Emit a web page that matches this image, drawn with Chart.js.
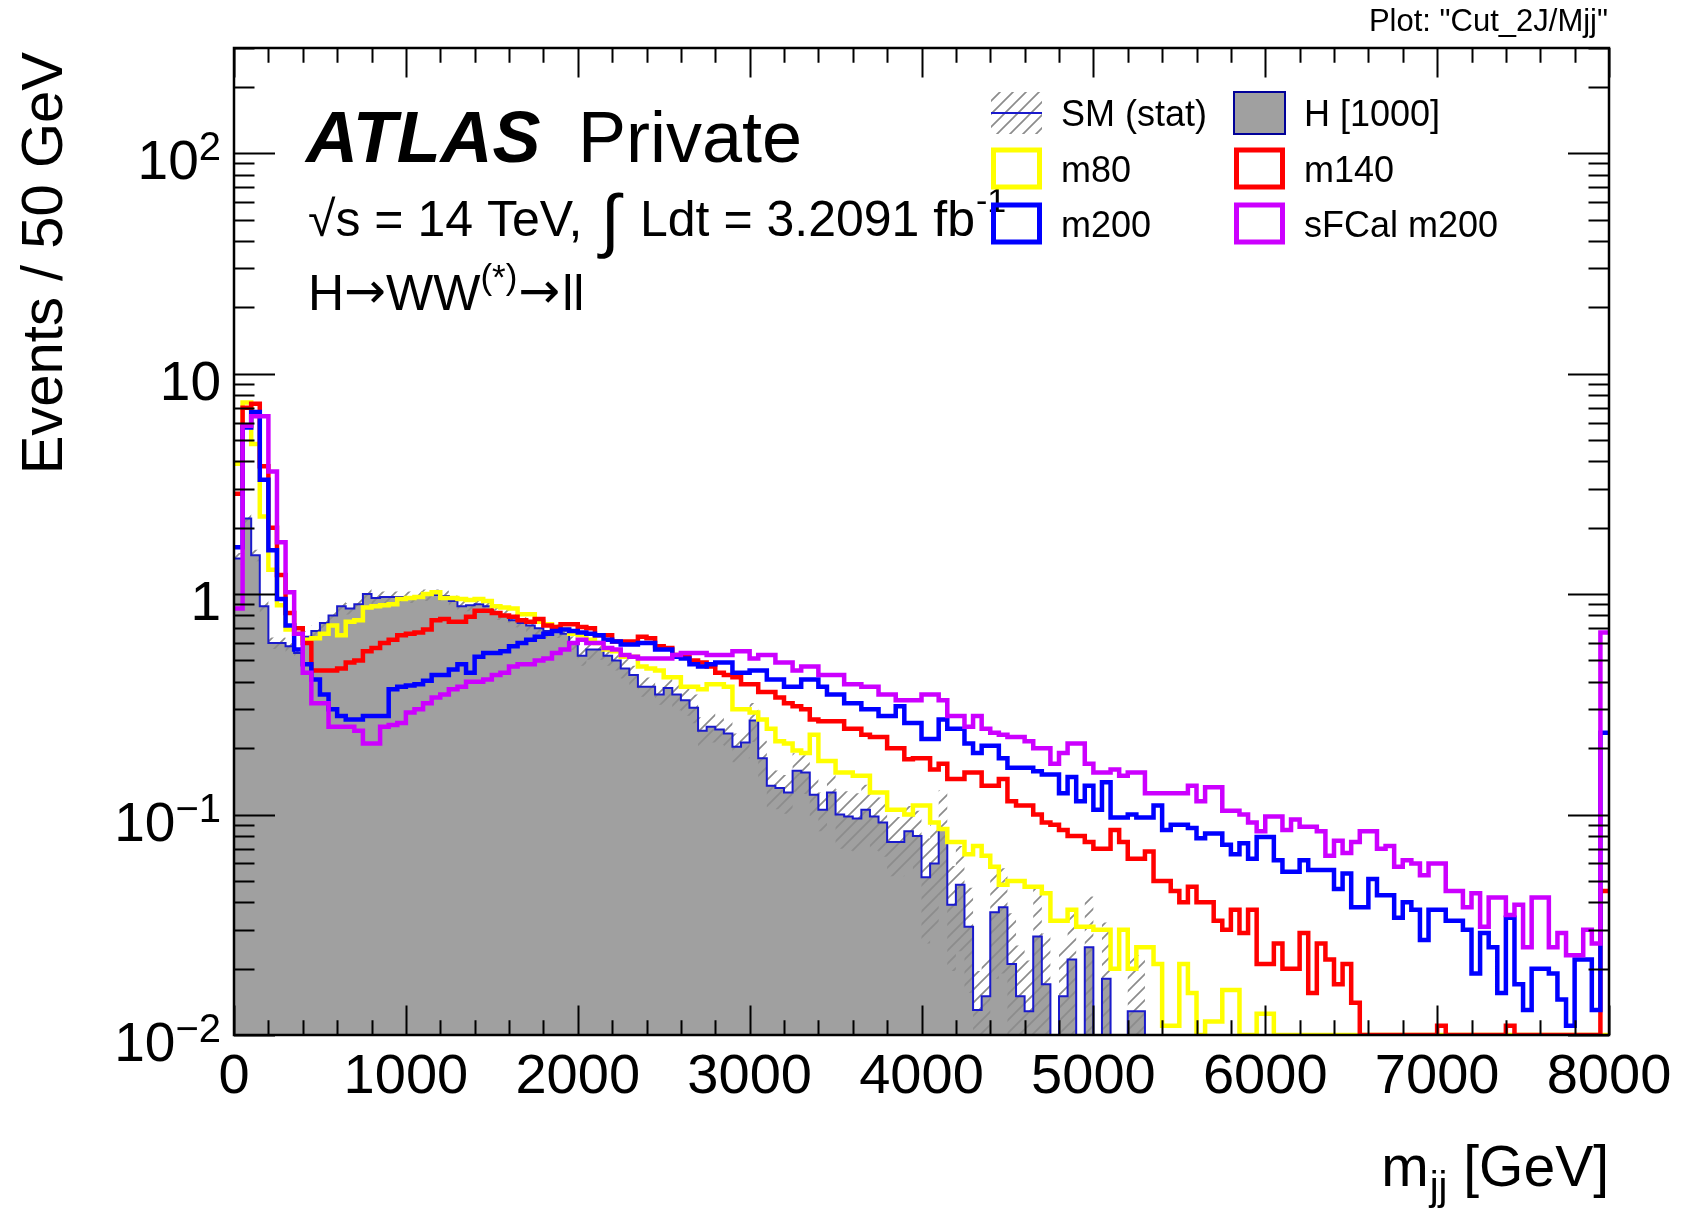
<!DOCTYPE html>
<html>
<head>
<meta charset="utf-8">
<script src="https://cdn.jsdelivr.net/npm/chart.js"></script>
<style>
  html, body { margin: 0; padding: 0; background: #fff; }
  canvas { display: block; }
</style>
</head>
<body>
<canvas id="mjj" width="1685" height="1210"></canvas>
<script>
// m_jj, 50 GeV bins from 0 to 8000 GeV (160 bins)
const binWidth = 50;
const nBins = 160;

// SM / H [1000] background (0 = empty bin)
const smValues = [
  1.45, 2.2, 1.5, 0.88, 0.6, 0.6, 0.58, 0.54, 0.64, 0.68, 0.74, 0.8, 0.88, 0.86, 0.9, 1.0, 0.96, 0.97, 0.97, 0.97,
  0.97, 0.98, 0.99, 0.99, 0.98, 0.93, 0.88, 0.89, 0.9, 0.88, 0.82, 0.8, 0.76, 0.74, 0.72, 0.7, 0.68, 0.68, 0.66, 0.6,
  0.525, 0.56, 0.56, 0.525, 0.5, 0.46, 0.43, 0.38, 0.38, 0.35, 0.375, 0.35, 0.33, 0.305, 0.24, 0.25, 0.243, 0.233, 0.203, 0.212,
  0.267, 0.18, 0.135, 0.132, 0.126, 0.158, 0.155, 0.123, 0.105, 0.126, 0.1, 0.098, 0.096, 0.105, 0.098, 0.092, 0.075, 0.075, 0.084, 0.08,
  0.052, 0.06, 0.086, 0.039, 0.048, 0.031, 0.013, 0.015, 0.036, 0.038, 0.021, 0.015, 0.0128, 0.028, 0.017, 0, 0.015, 0.022, 0, 0.025,
  0, 0.018, 0, 0, 0.0128, 0.0128, 0, 0, 0, 0, 0, 0, 0, 0, 0, 0, 0, 0, 0, 0,
  0, 0, 0, 0, 0, 0, 0, 0, 0, 0, 0, 0, 0, 0, 0, 0, 0, 0, 0, 0,
  0, 0, 0, 0, 0, 0, 0, 0, 0, 0, 0, 0, 0, 0, 0, 0, 0, 0, 0, 0
];

// relative stat. uncertainty of SM, one value per 500 GeV
const smRelErr = [0.06, 0.06, 0.06, 0.07, 0.1, 0.15, 0.2, 0.3, 0.5, 0.7, 0.8, 0, 0, 0, 0, 0];

const m80 = [
  3.9, 7.4, 4.8, 2.25, 1.29, 0.89, 0.69, 0.66, 0.62, 0.63, 0.66, 0.72, 0.65, 0.75, 0.76, 0.87, 0.88, 0.89, 0.9, 0.95,
  0.96, 0.97, 1.0, 1.02, 0.96, 0.96, 0.95, 0.94, 0.95, 0.93, 0.88, 0.87, 0.86, 0.81, 0.81, 0.75, 0.73, 0.71, 0.69, 0.66,
  0.65, 0.62, 0.6, 0.56, 0.55, 0.52, 0.52, 0.47, 0.46, 0.45, 0.42, 0.42, 0.38, 0.38, 0.37, 0.39, 0.39, 0.38, 0.3, 0.3,
  0.29, 0.27, 0.245, 0.215, 0.21, 0.195, 0.19, 0.23, 0.175, 0.175, 0.155, 0.155, 0.15, 0.15, 0.126, 0.126, 0.105, 0.105, 0.1, 0.11,
  0.11, 0.092, 0.086, 0.075, 0.075, 0.066, 0.072, 0.065, 0.058, 0.048, 0.05, 0.05, 0.047, 0.047, 0.044, 0.033, 0.033, 0.037, 0.031, 0.031,
  0.03, 0.03, 0.02, 0.03, 0.02, 0.025, 0.025, 0.021, 0.011, 0.011, 0.021, 0.0155, 0, 0.0115, 0.0115, 0.016, 0.016, 0, 0, 0.0125,
  0.0125, 0, 0, 0, 0, 0, 0, 0, 0, 0, 0, 0, 0, 0, 0, 0, 0, 0, 0, 0,
  0, 0, 0, 0, 0, 0, 0, 0, 0, 0, 0, 0, 0, 0, 0, 0, 0, 0, 0, 0
];

const m140 = [
  2.85, 7.0, 7.3, 3.8, 2.0, 1.22, 0.82, 0.7, 0.6, 0.45, 0.45, 0.45, 0.46, 0.49, 0.5, 0.55, 0.57, 0.6, 0.62, 0.65,
  0.66, 0.67, 0.69, 0.76, 0.77, 0.75, 0.75, 0.79, 0.84, 0.84, 0.82, 0.8, 0.79, 0.76, 0.75, 0.77, 0.72, 0.71, 0.73, 0.73,
  0.71, 0.7, 0.65, 0.65, 0.61, 0.61, 0.61, 0.64, 0.63, 0.58, 0.57, 0.53, 0.52, 0.5, 0.49, 0.47, 0.44, 0.43, 0.42, 0.39,
  0.39, 0.36, 0.36, 0.34, 0.32, 0.31, 0.3, 0.27, 0.265, 0.265, 0.265, 0.245, 0.245, 0.23, 0.225, 0.225, 0.2, 0.2, 0.178, 0.18,
  0.18, 0.16, 0.17, 0.145, 0.145, 0.155, 0.155, 0.135, 0.135, 0.145, 0.115, 0.11, 0.11, 0.1, 0.092, 0.09, 0.085, 0.08, 0.08, 0.075,
  0.07, 0.07, 0.085, 0.075, 0.063, 0.063, 0.068, 0.05, 0.05, 0.045, 0.04, 0.047, 0.04, 0.04, 0.033, 0.03, 0.037, 0.029, 0.037, 0.021,
  0.021, 0.026, 0.02, 0.02, 0.029, 0.0155, 0.026, 0.022, 0.017, 0.021, 0.014, 0, 0, 0, 0, 0, 0, 0, 0, 0,
  0.011, 0, 0, 0, 0, 0, 0, 0, 0.011, 0, 0, 0, 0, 0, 0, 0, 0, 0, 0, 0.045
];

const m200 = [
  1.63, 5.7, 6.7, 3.3, 1.58, 0.95, 0.72, 0.56, 0.48, 0.41, 0.35, 0.3, 0.28, 0.27, 0.27, 0.28, 0.28, 0.28, 0.37, 0.38,
  0.385, 0.39, 0.405, 0.43, 0.43, 0.455, 0.48, 0.44, 0.52, 0.54, 0.54, 0.55, 0.58, 0.6, 0.62, 0.64, 0.66, 0.68, 0.69, 0.68,
  0.67, 0.66, 0.65, 0.62, 0.61, 0.59, 0.59, 0.6, 0.6, 0.56, 0.56, 0.52, 0.51, 0.48, 0.47, 0.48, 0.49, 0.49, 0.44, 0.44,
  0.45, 0.45, 0.41, 0.41, 0.38, 0.38, 0.41, 0.41, 0.38, 0.35, 0.35, 0.32, 0.32, 0.3, 0.3, 0.28, 0.28, 0.31, 0.26, 0.26,
  0.22, 0.22, 0.27, 0.245, 0.245, 0.21, 0.19, 0.205, 0.205, 0.18, 0.163, 0.163, 0.163, 0.157, 0.152, 0.152, 0.125, 0.148, 0.115, 0.135,
  0.105, 0.14, 0.097, 0.097, 0.1, 0.097, 0.097, 0.11, 0.085, 0.09, 0.09, 0.087, 0.078, 0.082, 0.082, 0.073, 0.066, 0.074, 0.063, 0.079,
  0.079, 0.062, 0.055, 0.055, 0.062, 0.056, 0.056, 0.056, 0.046, 0.054, 0.038, 0.038, 0.051, 0.043, 0.043, 0.034, 0.04, 0.037, 0.027, 0.037,
  0.037, 0.033, 0.033, 0.03, 0.019, 0.029, 0.025, 0.0155, 0.034, 0.017, 0.013, 0.02, 0.02, 0.019, 0.0145, 0.011, 0.022, 0.022, 0.013, 0.235
];

const sfcalM200 = [
  0.86, 5.8, 6.4, 6.4, 3.6, 1.72, 1.02, 0.66, 0.44, 0.32, 0.32, 0.25, 0.25, 0.25, 0.24, 0.21, 0.21, 0.25, 0.255, 0.26,
  0.29, 0.3, 0.32, 0.34, 0.35, 0.37, 0.38, 0.4, 0.4, 0.41, 0.43, 0.44, 0.47, 0.48, 0.48, 0.5, 0.51, 0.54, 0.56, 0.6,
  0.62, 0.6, 0.6, 0.57, 0.56, 0.53, 0.52, 0.51, 0.51, 0.51, 0.51, 0.53, 0.54, 0.54, 0.54, 0.53, 0.53, 0.53, 0.55, 0.55,
  0.51, 0.53, 0.53, 0.49, 0.49, 0.45, 0.47, 0.47, 0.43, 0.43, 0.43, 0.39, 0.39, 0.38, 0.38, 0.35, 0.35, 0.33, 0.33, 0.33,
  0.35, 0.35, 0.33, 0.28, 0.28, 0.25, 0.28, 0.245, 0.235, 0.23, 0.225, 0.225, 0.215, 0.2, 0.2, 0.17, 0.19, 0.21, 0.21, 0.17,
  0.155, 0.155, 0.16, 0.15, 0.155, 0.155, 0.125, 0.125, 0.125, 0.125, 0.125, 0.135, 0.115, 0.133, 0.133, 0.104, 0.104, 0.1, 0.092, 0.084,
  0.098, 0.098, 0.085, 0.095, 0.088, 0.088, 0.084, 0.065, 0.076, 0.067, 0.075, 0.084, 0.084, 0.07, 0.072, 0.058, 0.062, 0.06, 0.053, 0.06,
  0.06, 0.045, 0.045, 0.038, 0.044, 0.031, 0.042, 0.042, 0.035, 0.039, 0.025, 0.042, 0.042, 0.025, 0.029, 0.023, 0.023, 0.03, 0.026, 0.67
];

// axes
const xMin = 0, xMax = 8000;
const yMin = 0.01, yMax = 300;
const xTickValues = [0, 1000, 2000, 3000, 4000, 5000, 6000, 7000, 8000];
const xTickLabels = ["0", "1000", "2000", "3000", "4000", "5000", "6000", "7000", "8000"];
const yTickValues = [0.01, 0.1, 1, 10, 100];
const yTickLabels = [["10", "\u22122"], ["10", "\u22121"], ["1", ""], ["10", ""], ["10", "2"]];

const FONT = '"Liberation Sans", Arial, Helvetica, sans-serif';
const ARROW_FONT = '"DejaVu Sans", sans-serif';

// histogram -> step points at bin low edges (+ closing point), empty bins sit on the axis floor
function histPoints(values) {
  const pts = values.map((v, i) => ({ x: i * binWidth, y: v > yMin ? v : yMin }));
  pts.push({ x: nBins * binWidth, y: pts[pts.length - 1].y });
  return pts;
}

const bandLow = smValues.map((v, i) => v * (1 - smRelErr[Math.floor(i / 10)]));
const bandHigh = smValues.map((v, i) => v * (1 + smRelErr[Math.floor(i / 10)]));

const canvas = document.getElementById("mjj");
const mainCtx = canvas.getContext("2d");

function makeHatch(ctx) {
  const s = 13;
  const c = document.createElement("canvas");
  c.width = s;
  c.height = s;
  const g = c.getContext("2d");
  g.strokeStyle = "#8c8c8c";
  g.lineWidth = 1.7;
  g.beginPath();
  g.moveTo(0, s); g.lineTo(s, 0);
  g.moveTo(-3, 3); g.lineTo(3, -3);
  g.moveTo(s - 3, s + 3); g.lineTo(s + 3, s - 3);
  g.stroke();
  return ctx.createPattern(c, "repeat");
}
const hatch = makeHatch(mainCtx);

function histLine(label, values, color, order) {
  return {
    label: label,
    data: histPoints(values),
    stepped: true,
    fill: false,
    borderColor: color,
    borderWidth: 4.5,
    borderJoinStyle: "miter",
    pointRadius: 0,
    order: order,
  };
}

function text(ctx, s, x, y, size, align, style, family) {
  ctx.font = (style || "") + " " + size + "px " + (family || FONT);
  ctx.textAlign = align || "left";
  ctx.textBaseline = "alphabetic";
  ctx.fillStyle = "#000";
  ctx.fillText(s, x, y);
  return ctx.measureText(s).width;
}

function measure(ctx, s, size, style) {
  ctx.font = (style || "") + " " + size + "px " + FONT;
  return ctx.measureText(s).width;
}

// ROOT style frame, inward ticks, labels, texts and legend
const rootDecor = {
  id: "rootDecor",
  afterDraw(chart) {
    const ctx = chart.ctx;
    const a = chart.chartArea;
    const xs = chart.scales.x;
    const ys = chart.scales.y;
    ctx.save();

    // ticks
    ctx.strokeStyle = "#000";
    ctx.lineWidth = 2;
    ctx.beginPath();
    for (let k = -2; k <= 2; k++) {
      for (let m = 1; m <= 9; m++) {
        const v = m * Math.pow(10, k);
        if (v < yMin || v > yMax) continue;
        const y = Math.round(ys.getPixelForValue(v)) + 0.5;
        const len = m === 1 ? 41 : 20.5;
        ctx.moveTo(a.left, y); ctx.lineTo(a.left + len, y);
        ctx.moveTo(a.right, y); ctx.lineTo(a.right - len, y);
      }
    }
    for (let v = xMin; v <= xMax; v += 200) {
      const x = Math.round(xs.getPixelForValue(v)) + 0.5;
      const len = v % 1000 === 0 ? 29.6 : 14.8;
      ctx.moveTo(x, a.bottom); ctx.lineTo(x, a.bottom - len);
      ctx.moveTo(x, a.top); ctx.lineTo(x, a.top + len);
    }
    ctx.stroke();

    // frame
    ctx.lineWidth = 2.5;
    ctx.strokeRect(a.left, a.top, a.right - a.left, a.bottom - a.top);

    // y tick labels
    const ySize = 55, ySup = 40;
    yTickValues.forEach((v, k) => {
      const base = Math.round(ys.getPixelForValue(v)) + 26;
      const [main, sup] = yTickLabels[k];
      const ws = sup ? measure(ctx, sup, ySup) : 0;
      const right = 221;
      text(ctx, main, right - ws, base, ySize, "right");
      if (sup) text(ctx, sup, right - ws, base - 19, ySup, "left");
    });

    // x tick labels
    xTickValues.forEach((v, k) => {
      text(ctx, xTickLabels[k], xs.getPixelForValue(v), 1093, 56, "center");
    });

    // axis titles
    ctx.save();
    ctx.translate(62, 52);
    ctx.rotate(-Math.PI / 2);
    text(ctx, "Events / 50 GeV", 0, 0, 58, "right");
    ctx.restore();

    const wGeV = text(ctx, " [GeV]", 1609, 1186, 57, "right");
    const wjj = measure(ctx, "jj", 40);
    text(ctx, "jj", 1609 - wGeV - wjj, 1200, 40, "left");
    text(ctx, "m", 1609 - wGeV - wjj - 1, 1186, 57, "right");

    // top-right plot name
    text(ctx, "Plot: \"Cut_2J/Mjj\"", 1608, 31, 31, "right");

    // ATLAS label
    text(ctx, "ATLAS", 306, 162, 72, "left", "italic bold");
    text(ctx, "Private", 578, 162, 72, "left");

    // lumi line
    let x = 308;
    x += text(ctx, "\u221As = 14 TeV,", x, 236, 50, "left");
    text(ctx, "\u222B", x + 18, 244, 70, "left");
    x = 640;
    x += text(ctx, "Ldt = 3.2091 fb", x, 236, 50, "left");
    text(ctx, "-1", x + 1, 212, 34, "left");

    // channel
    x = 308;
    x += text(ctx, "H", x, 310, 50, "left");
    x += text(ctx, "\u2192", x, 308, 50, "left", "", ARROW_FONT);
    x += text(ctx, "WW", x, 310, 50, "left");
    x += text(ctx, "(*)", x, 289, 35, "left");
    x += text(ctx, "\u2192", x + 1, 308, 50, "left", "", ARROW_FONT);
    text(ctx, "ll", x + 3, 310, 50, "left");

    // legend
    const boxX = [991, 1234], textX = [1061, 1304], rowY = [113, 168.5, 223.5];
    const bw = 51, bh = 42;
    const entries = [
      { label: "SM (stat)", kind: "hatch", col: 0, row: 0 },
      { label: "H [1000]", kind: "fill", col: 1, row: 0 },
      { label: "m80", color: "#ffff00", col: 0, row: 1 },
      { label: "m140", color: "#ff0000", col: 1, row: 1 },
      { label: "m200", color: "#0000ff", col: 0, row: 2 },
      { label: "sFCal m200", color: "#cc00ff", col: 1, row: 2 },
    ];
    entries.forEach(e => {
      const bx = boxX[e.col], by = rowY[e.row] - bh / 2;
      if (e.kind === "hatch") {
        ctx.save();
        ctx.beginPath();
        ctx.rect(bx, by, bw, bh);
        ctx.clip();
        ctx.fillStyle = hatch;
        ctx.fillRect(bx, by, bw, bh);
        ctx.restore();
        ctx.strokeStyle = "#1a1acc";
        ctx.lineWidth = 2;
        ctx.beginPath();
        ctx.moveTo(bx, rowY[e.row]); ctx.lineTo(bx + bw, rowY[e.row]);
        ctx.stroke();
      } else if (e.kind === "fill") {
        ctx.fillStyle = "#a0a0a0";
        ctx.fillRect(bx, by, bw, bh);
        ctx.strokeStyle = "#000099";
        ctx.lineWidth = 2;
        ctx.strokeRect(bx, by, bw, bh);
      } else {
        ctx.strokeStyle = e.color;
        ctx.lineWidth = 5;
        ctx.strokeRect(bx + 2.5, by + 2.5, bw - 5, bh - 5);
      }
      text(ctx, e.label, textX[e.col], rowY[e.row] + 13, 36, "left");
    });

    ctx.restore();
  },
};

new Chart(canvas, {
  type: "line",
  data: {
    datasets: [
      {
        label: "H [1000]",
        data: histPoints(smValues),
        stepped: true,
        fill: "start",
        backgroundColor: "#a0a0a0",
        borderColor: "rgba(0,0,0,0)",
        borderWidth: 0,
        pointRadius: 0,
        order: 8,
      },
      {
        label: "SM stat low",
        data: histPoints(bandLow),
        stepped: true,
        fill: false,
        borderColor: "rgba(0,0,0,0)",
        borderWidth: 0,
        pointRadius: 0,
        order: 7,
      },
      {
        label: "SM (stat)",
        data: histPoints(bandHigh),
        stepped: true,
        fill: "-1",
        backgroundColor: hatch,
        borderColor: "rgba(0,0,0,0)",
        borderWidth: 0,
        pointRadius: 0,
        order: 6,
      },
      {
        label: "SM",
        data: histPoints(smValues),
        stepped: true,
        fill: false,
        borderColor: "#1a1acc",
        borderWidth: 2,
        pointRadius: 0,
        order: 5,
      },
      histLine("m80", m80, "#ffff00", 4),
      histLine("m140", m140, "#ff0000", 3),
      histLine("m200", m200, "#0000ff", 2),
      histLine("sFCal m200", sfcalM200, "#cc00ff", 1),
    ],
  },
  options: {
    responsive: false,
    animation: false,
    devicePixelRatio: 1,
    layout: { padding: { left: 234, right: 76, top: 48, bottom: 175 } },
    scales: {
      x: { type: "linear", min: xMin, max: xMax, display: false },
      y: { type: "logarithmic", min: yMin, max: yMax, display: false },
    },
    plugins: {
      legend: { display: false },
      tooltip: { enabled: false },
    },
  },
  plugins: [rootDecor],
});
</script>
</body>
</html>
